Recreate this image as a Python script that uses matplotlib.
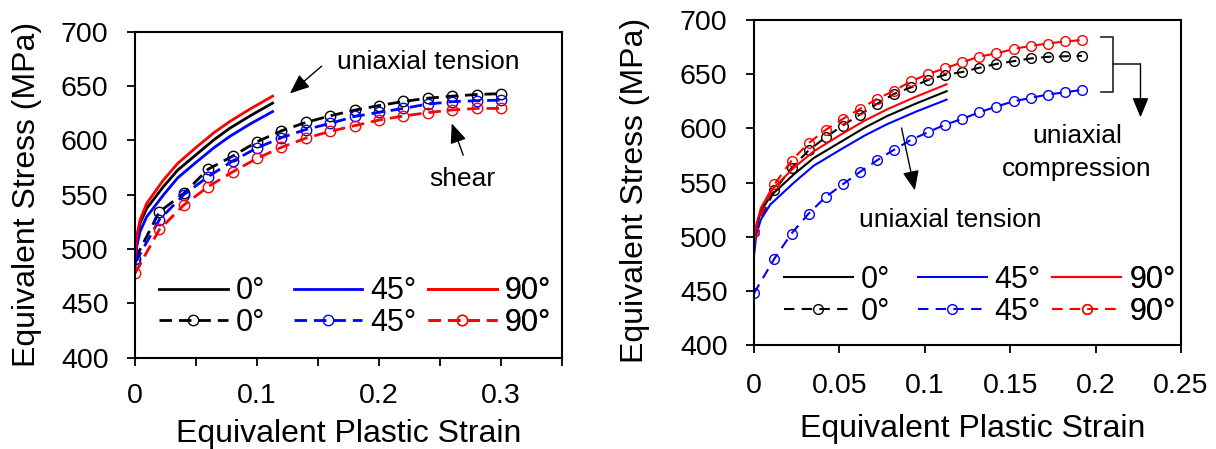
import numpy as np
import matplotlib.pyplot as plt
from matplotlib.ticker import MultipleLocator

plt.rcParams['font.family'] = ['Liberation Sans', 'DejaVu Sans']

# uniaxial tension curves (same in both panels)
ten_strain = [0, 0.0014, 0.0041, 0.0096, 0.0232, 0.035, 0.0506, 0.065, 0.0779, 0.095, 0.1128]
ten_0 = [490, 508, 523.6, 537.4, 557.3, 572.6, 587.3, 600.8, 611.3, 623, 634.3]
ten_45 = [482, 502, 515.9, 529.7, 549.6, 565.5, 580.3, 593.5, 603.8, 615.5, 626.5]
ten_90 = [492, 511.3, 526.6, 542, 563.4, 578.8, 594, 607.3, 617.5, 629.3, 640.7]

# shear
sh_strain = [0, 0.02, 0.04, 0.06, 0.08, 0.10, 0.12, 0.14, 0.16, 0.18, 0.20, 0.22, 0.24, 0.26, 0.28, 0.30]
sh_0 = [490.5, 534.3, 551.2, 573.5, 585.5, 598.7, 608.8, 616.5, 622.6, 627.8, 632, 635.8, 638.8, 640.7, 642.2, 643]
sh_45 = [487, 527, 550, 566.6, 581, 593, 602.5, 610, 615.6, 622, 625.8, 629.4, 633.4, 635.6, 636.5, 637]
sh_90 = [477.6, 518, 540.5, 557.4, 571, 583.4, 593.6, 602, 608.3, 613.5, 618.7, 622.4, 625.5, 628, 629.4, 629.4]

# uniaxial compression
co_strain = [0, 0.012, 0.022, 0.032, 0.042, 0.052, 0.062, 0.072, 0.082, 0.092, 0.102, 0.112,
             0.122, 0.132, 0.142, 0.152, 0.162, 0.172, 0.182, 0.192]
co_0 = [504, 542.7, 563.3, 579.6, 591.8, 602.6, 612.7, 622.6, 631.8, 637.9, 644.7, 649.5,
        652, 656, 659.5, 662, 664.5, 666, 666.5, 667]
co_45 = [447.6, 479.8, 502.9, 521.3, 536.6, 548.3, 559.7, 570.4, 580.3, 589.4, 596.5, 603.5,
         608.7, 614.9, 620.1, 625, 628.1, 631.2, 633.3, 635.5]
co_90 = [504.3, 548.3, 570.3, 586.3, 598.6, 608.7, 617.9, 627.1, 634.8, 643.4, 650.2, 655.5,
         661, 666.3, 669.2, 673.2, 676.2, 678.3, 680.2, 681.5]

angles = ['0°', '45°', '90°']
colors = ['black', '#0000FF', '#FF0000']

TICK_FS = 20.5
LEG_FS = 22
NOTE_FS = 19
LABEL_FS = 23

fig = plt.figure(figsize=(12.16, 4.49), dpi=100)
ax1 = fig.add_axes([0.111, 0.2033, 0.3512, 0.7261])
ax2 = fig.add_axes([0.620, 0.2316, 0.3512, 0.7238])


def draw(ax, dash_x, dash, lw, ms, dashes, leg_x, leg_y):
    ten = [ten_0, ten_45, ten_90]
    for i, (t, d, c) in enumerate(zip(ten, dash, colors)):
        h1, = ax.plot(ten_strain, t, color=c, lw=lw)
        h2, = ax.plot(dash_x, d, color=c, lw=lw, ls=(0, dashes),
                      marker='o', ms=ms, mfc='none', mec=c, mew=1.0)
        leg = ax.legend([h1, h2], [angles[i], angles[i]], frameon=False,
                        fontsize=LEG_FS, loc='upper left',
                        bbox_to_anchor=(leg_x[i], leg_y), borderpad=0,
                        borderaxespad=0, handlelength=2.25, handletextpad=0.26,
                        labelspacing=0.05)
        ax.add_artist(leg)


draw(ax1, sh_strain, [sh_0, sh_45, sh_90], 2.0, 7.5, (4.5, 2.5),
     [0.0562, 0.3714, 0.686], 0.25)
draw(ax2, co_strain, [co_0, co_45, co_90], 1.5, 7, (5, 3.5),
     [0.0703, 0.384, 0.699], 0.246)

for ax in (ax1, ax2):
    ax.set_ylim(400, 700)
    ax.yaxis.set_major_locator(MultipleLocator(50))
    ax.xaxis.set_minor_locator(MultipleLocator(0.05))
    ax.tick_params(which='both', direction='out', length=6, width=1.3,
                   labelsize=TICK_FS)
    ax.tick_params(axis='y', pad=13)
    for s in ax.spines.values():
        s.set_linewidth(1.5)
    ax.set_xlabel('Equivalent Plastic Strain', fontsize=LABEL_FS)
    ax.set_ylabel('Equivalent Stress (MPa)', fontsize=LABEL_FS)
    ax.xaxis.set_major_formatter(plt.FuncFormatter(lambda v, p: f'{v:g}'))

ax1.set_xlim(0, 0.35)
ax1.xaxis.set_major_locator(MultipleLocator(0.1))
ax1.tick_params(axis='x', pad=12)
ax1.yaxis.set_label_coords(-0.218, 0.5)
ax1.xaxis.set_label_coords(0.5, -0.187)

ax2.set_xlim(0, 0.25)
ax2.xaxis.set_major_locator(MultipleLocator(0.05))
ax2.tick_params(axis='x', pad=14)
ax2.yaxis.set_label_coords(-0.2436, 0.477)
ax2.xaxis.set_label_coords(0.513, -0.211)

arrow = dict(arrowstyle='-|>,head_length=0.6,head_width=0.25', color='black',
             lw=1.0, mutation_scale=20, shrinkA=0, shrinkB=0)

# left annotations
ax1.text(0.1656, 672, 'uniaxial tension', fontsize=NOTE_FS, ha='left', va='center')
ax1.annotate('', xy=(0.127, 643.2), xytext=(0.153, 668.3), arrowprops=arrow)
ax1.text(0.268, 564.3, 'shear', fontsize=NOTE_FS, ha='center', va='center')
ax1.annotate('', xy=(0.2596, 615.6), xytext=(0.269, 586.4), arrowprops=arrow)

# right annotations
ax2.text(0.115, 515.7, 'uniaxial tension', fontsize=NOTE_FS, ha='center', va='center')
ax2.annotate('', xy=(0.0942, 542.7), xytext=(0.0864, 600.4), arrowprops=arrow)
ax2.text(0.189, 577.5, 'uniaxial\ncompression', fontsize=NOTE_FS, ha='center',
         va='center', linespacing=1.45)
ax2.plot([0.2033, 0.2101, 0.2101, 0.2033], [684.5, 684.5, 633.9, 633.9],
         color='#222222', lw=1.2)
ax2.plot([0.2101, 0.2263], [659.4, 659.4], color='#222222', lw=1.2)
ax2.annotate('', xy=(0.2263, 610.2), xytext=(0.2263, 659.4), arrowprops=arrow)

fig.savefig('out.png', dpi=100)
